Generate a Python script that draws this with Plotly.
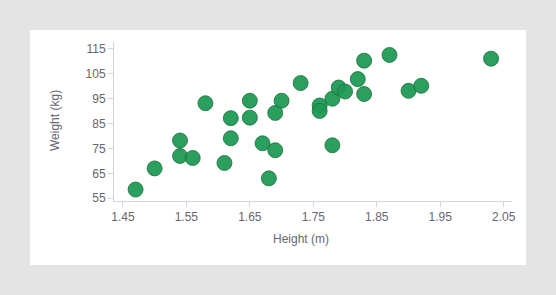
import plotly.graph_objects as go

height_m = [1.47, 1.50, 1.54, 1.54, 1.56, 1.58, 1.62, 1.62, 1.61, 1.65,
            1.65, 1.67, 1.68, 1.69, 1.69, 1.70, 1.73, 1.76, 1.76, 1.78,
            1.78, 1.79, 1.80, 1.82, 1.83, 1.83, 1.87, 1.90, 1.92, 2.03]
weight_kg = [58.5, 67, 78.2, 72, 71.2, 93.2, 87.2, 79.1, 69.2, 94.2,
             87.4, 77.1, 63, 74.3, 89.3, 94.2, 101.3, 92.3, 90.1, 95,
             76.3, 99.5, 97.9, 102.9, 110.3, 96.9, 112.6, 98.2, 100.2, 111.1]
x_ticks = [1.45, 1.55, 1.65, 1.75, 1.85, 1.95, 2.05]
y_ticks = [55, 65, 75, 85, 95, 105, 115]

W, H = 556, 295
L, R, T, B = 114, 512, 42, 201
pw, ph = R - L, B - T

fig = go.Figure()
fig.add_trace(go.Scatter(
    x=height_m, y=weight_kg, mode="markers",
    marker=dict(size=15, color="rgba(31,154,85,0.95)",
                line=dict(color="#1b6e3e", width=0.8)),
    hoverinfo="x+y", showlegend=False,
))

def px2paper_x(p):
    return (p - L) / pw

def px2paper_y(p):
    return (B - p) / ph

fig.add_shape(type="rect", xref="paper", yref="paper", layer="below",
              x0=px2paper_x(30), x1=px2paper_x(526),
              y0=px2paper_y(265), y1=px2paper_y(30),
              fillcolor="white", line=dict(width=0))

font_col = "#666670"
axis_col = "#d3d3de"
fig.update_xaxes(range=[1.436, 2.063], tickvals=x_ticks,
                 ticktext=[f"{v:.2f}" for v in x_ticks],
                 showgrid=False, zeroline=False, showline=True,
                 linecolor=axis_col, linewidth=1, ticks="outside",
                 ticklen=5, tickcolor=axis_col,
                 tickfont=dict(size=12, color=font_col))
fig.update_yaxes(range=[53.9, 117.8], tickvals=y_ticks,
                 showgrid=False, zeroline=False, showline=True,
                 linecolor=axis_col, linewidth=1, ticks="outside",
                 ticklen=5, tickcolor=axis_col,
                 tickfont=dict(size=12, color=font_col))

fig.add_annotation(text="Height (m)", xref="paper", yref="paper",
                   x=px2paper_x(301), y=px2paper_y(239),
                   showarrow=False, font=dict(size=12, color=font_col),
                   xanchor="center", yanchor="middle")
fig.add_annotation(text="Weight (kg)", xref="paper", yref="paper",
                   x=px2paper_x(55), y=px2paper_y(121), textangle=-90,
                   showarrow=False, font=dict(size=12, color=font_col),
                   xanchor="center", yanchor="middle")

fig.update_layout(
    width=W, height=H,
    margin=dict(l=L, r=W - R, t=T, b=H - B),
    paper_bgcolor="#e4e4e4", plot_bgcolor="rgba(0,0,0,0)",
    font=dict(family="Liberation Sans, Arial, sans-serif", size=12, color=font_col),
)

fig.write_html("out.html")
